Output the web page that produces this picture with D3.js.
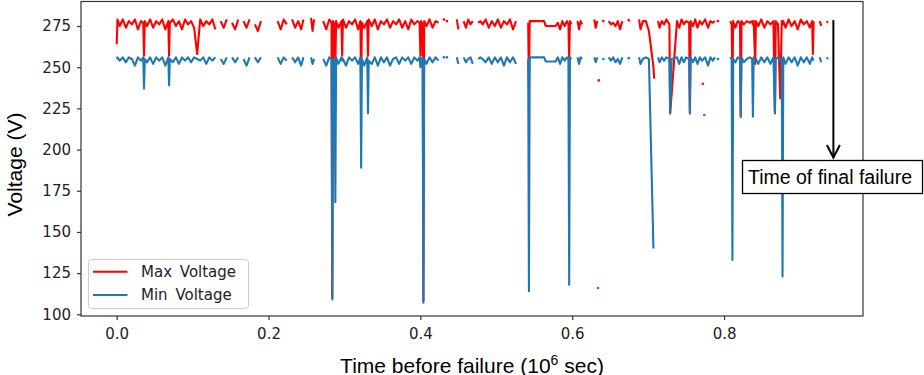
<!DOCTYPE html>
<html>
<head>
<meta charset="utf-8">
<script src="https://cdn.jsdelivr.net/npm/d3@7"></script>
<style>
  body { margin: 0; background: #fff; }
  svg { display: block; }
</style>
</head>
<body>
<div id="container"></div>
<script>

// readings: [time (1e6 s), max voltage, min voltage]; null = no reading
const segA = [
  [0.000, 264, 255], [0.001, 279, 256], [0.004, 275, 254], [0.008, 279, 256], [0.012, 274, 253],
  [0.016, 278, 256], [0.020, 276, 255], [0.024, 279, 251], [0.028, 273, 256], [0.032, 278, 254],
  [0.035, 277, 256], [0.036, 257, 237], [0.037, 278, 255], [0.040, 275, 253], [0.044, 279, 256],
  [0.048, 274, 252], [0.052, 278, 256], [0.056, 276, 254], [0.060, 279, 256], [0.064, 273, 251],
  [0.068, 278, 256], [0.069, 257, 239], [0.070, 277, 255], [0.074, 279, 253], [0.078, 275, 256],
  [0.082, 278, 252], [0.086, 273, 256], [0.090, 279, 254], [0.094, 276, 256], [0.098, 278, 253],
  [0.102, 274, 256], [0.106, 258, 255], [0.110, 279, 254], [0.114, 275, 256], [0.118, 278, 252],
  [0.122, 276, 256], [0.126, 279, 254], [0.130, 273, 256], [0.134, null, null], [0.137, 278, 255],
  [0.141, 274, 252], [0.145, 279, 256], [0.149, null, null], [0.152, 277, 256], [0.156, 273, 253],
  [0.160, 279, 256], [0.164, null, null], [0.167, 278, 255], [0.171, 274, 251], [0.175, 279, 256],
  [0.179, null, null], [0.182, 276, 256], [0.186, 272, 253], [0.190, 278, 256]
];
const segB = [
  [0.212, 278, 256], [0.216, 273, 252], [0.220, 279, 256], [0.224, 276, 254], [0.228, null, null],
  [0.231, 279, 256], [0.235, 274, 253], [0.239, 278, 256], [0.243, 273, 251], [0.246, 279, 256],
  [0.250, null, null],
  [0.256, 280, 256], [0.258, 272, 252], [0.260, 279, 255]
];
const segC = [
  [0.272, 278, 255], [0.276, 273, 251], [0.280, 279, 256], [0.283, 277, 255], [0.284, 110, 109],
  [0.285, 278, 254], [0.287, 276, 255], [0.288, 250, 168], [0.289, 278, 256], [0.292, 274, 252],
  [0.296, 278, 256], [0.297, 257, 254], [0.298, 279, 255], [0.302, 274, 251], [0.306, 278, 256],
  [0.310, 276, 254], [0.314, 279, 256], [0.318, 273, 252], [0.321, 278, 256], [0.322, 240, 189],
  [0.323, 277, 255], [0.326, 274, 251], [0.330, 278, 256], [0.331, 257, 222], [0.332, 279, 254],
  [0.336, 275, 252], [0.340, 279, 256], [0.344, 273, 251], [0.348, 278, 256], [0.352, 276, 253],
  [0.356, 279, 256], [0.360, 274, 251], [0.364, 278, 255], [0.368, 276, 256], [0.372, 279, 252],
  [0.376, 274, 256], [0.380, 278, 254], [0.384, 273, 256], [0.388, 279, 252], [0.392, 276, 256],
  [0.396, 278, 254], [0.399, 277, 256], [0.400, 257, 250], [0.401, 278, 255], [0.403, 276, 256],
  [0.404, 108, 107], [0.405, 278, 255], [0.408, 275, 252], [0.412, 279, 256], [0.416, 274, 253],
  [0.420, 278, 256], [0.424, 277, 254], [0.428, null, null], [0.431, 279, 256], [0.433, null, null],
  [0.435, 278, 256]
];
const segD = [
  [0.448, 279, 256], [0.450, 273, 252], [0.452, null, null], [0.457, 278, 256], [0.460, 274, 253],
  [0.463, 279, 255], [0.466, 276, 256], [0.469, 278, 252], [0.472, null, null], [0.476, 277, 255],
  [0.479, 278, 256], [0.482, 276, 255], [0.486, 279, 253], [0.490, 274, 256], [0.494, 278, 252],
  [0.498, 275, 256], [0.502, 279, 253], [0.506, 274, 256], [0.510, 278, 251], [0.514, 276, 256],
  [0.518, 279, 253], [0.522, 273, 256], [0.526, 278, 252]
];
const segE = [
  [0.542, 277, 255], [0.543, 238, 114], [0.544, 278, 256], [0.563, 278, 256], [0.565, 275, 253.5],
  [0.578, 275, 253.5], [0.581, 277, 256], [0.584, 273, 252], [0.587, 278, 256], [0.590, 275, 254],
  [0.593, 278, 256], [0.595, 276, 255], [0.596, 255, 118], [0.597, 278, 256], [0.599, 276, 255],
  [0.603, null, null],
  [0.607, 278, 256], [0.609, 273, 252], [0.611, 278, 256], [0.613, 276, 255]
];
const segF = [
  [0.629, 279, 256], [0.631, 274, 253], [0.633, 278, 256], [0.637, null, null], [0.641, 278, 255],
  [0.644, null, null], [0.648, 278, 256], [0.651, 276, 254], [0.654, 277, 256], [0.657, 275, 253],
  [0.660, 278, 255], [0.663, 273, 252], [0.666, 278, 256], [0.669, null, null], [0.673, 279, 255],
  [0.676, 278, 256]
];
const segG = [
  [0.688, 279, 256], [0.690, 273, 252], [0.693, 278, 255], [0.697, 278, 256], [0.701, 272, 255],
  [0.707, 250, 140], [0.708, 243, null], [0.710, null, null],
  [0.713, 278, 256], [0.715, 274, 253], [0.718, 278, 256], [0.721, 276, 254], [0.724, 279, 256],
  [0.728, 276, 255], [0.729, 222, 222], [0.731, 234, 255], [0.738, 278, 256], [0.741, 274, 252],
  [0.744, 279, 256], [0.747, 276, 253], [0.750, 278, 256], [0.754, 277, 255], [0.755, 222, 222],
  [0.756, 278, 256], [0.759, 275, 253], [0.762, 279, 256], [0.765, 274, 252], [0.768, 278, 256],
  [0.771, 276, 254], [0.775, 279, 256], [0.779, 274, 251], [0.782, 278, 256], [0.785, 277, 254],
  [0.788, 278, 256], [0.790, null, null], [0.792, 278, 255]
];
const segH = [
  [0.808, 278, 256], [0.810, 276, 255], [0.811, 242, 133], [0.812, 278, 255], [0.815, 274, 253],
  [0.818, 278, 256], [0.821, 277, 255], [0.822, 220, 220], [0.823, 278, 256], [0.826, 276, 253],
  [0.830, 278, 255], [0.834, 277, 256], [0.837, 278, 255], [0.838, 276, 220], [0.839, 278, 256],
  [0.841, 252, 254], [0.842, 278, 255], [0.845, 275, 252], [0.849, 279, 256], [0.853, 274, 253],
  [0.857, 278, 256], [0.861, 276, 252], [0.865, 278, 256], [0.867, 222, 222], [0.868, 278, 255],
  [0.871, 276, 256], [0.874, 231, 254], [0.876, 278, 255], [0.877, 276, 123], [0.878, 278, 256],
  [0.881, 274, 252], [0.885, 279, 256], [0.889, 275, 253], [0.893, 278, 256], [0.897, 273, 251],
  [0.901, 279, 256], [0.905, 276, 253], [0.909, 278, 256], [0.913, 274, 252], [0.916, 278, 256],
  [0.917, 258, 255], [0.918, 278, 254], [0.922, null, null], [0.926, 278, 256], [0.928, 275, 253],
  [0.930, null, null], [0.935, 278, 256], [0.937, 277, 255]
];
// lone readings away from the bands
const maxStray = [[0.635, 242], [0.772, 240]];
const minStray = [[0.634, 116], [0.774, 221]];

const yTicks = [100, 125, 150, 175, 200, 225, 250, 275];
const xTicks = [0.0, 0.2, 0.4, 0.6, 0.8];
const failureT = 0.944;

const width = 924, height = 375;
const m = { left: 81, right: 863, top: 1.5, bottom: 316 };

// stitch the segments with a break between each
let rows = [];
[segA, segB, segC, segD, segE, segF, segG, segH].forEach(s => {
  rows = rows.concat(s);
  rows.push([s[s.length - 1][0] + 0.001, null, null]);
});

const x = d3.scaleLinear().domain([-0.047, 0.983]).range([m.left, m.right]);
const y = d3.scaleLinear().domain([98.97, 289.9]).range([m.bottom, m.top]);

const svg = d3.create("svg").attr("width", width).attr("height", height);

function drawSeries(col, color, strays) {
  const line = d3.line()
    .defined(d => d[col] != null)
    .x(d => x(d[0]))
    .y(d => y(d[col]));
  svg.append("path")
    .attr("d", line(rows))
    .attr("fill", "none")
    .attr("stroke", color)
    .attr("stroke-width", 2.1)
    .attr("stroke-linejoin", "round");

  // single readings between breaks show as dots
  const lone = rows.filter((d, i) => d[col] != null &&
    (i == 0 || rows[i - 1][col] == null) && (i == rows.length - 1 || rows[i + 1][col] == null));
  svg.append("g").selectAll("circle")
    .data(lone.map(d => [d[0], d[col]]).concat(strays))
    .enter().append("circle")
      .attr("cx", d => x(d[0]))
      .attr("cy", d => y(d[1]))
      .attr("r", 1.3)
      .attr("fill", color);
}

drawSeries(1, "#ff0000", maxStray);
drawSeries(2, "#1f77b4", minStray);

// frame
svg.append("rect")
  .attr("x", m.left).attr("y", m.top)
  .attr("width", m.right - m.left).attr("height", m.bottom - m.top)
  .attr("fill", "none").attr("stroke", "#333").attr("stroke-width", 1.2);

const yAxis = svg.append("g")
  .attr("transform", `translate(${m.left},0)`)
  .call(d3.axisLeft(y).tickValues(yTicks).tickSize(4).tickPadding(6).tickFormat(d3.format("d")));
const xAxis = svg.append("g")
  .attr("transform", `translate(0,${m.bottom})`)
  .call(d3.axisBottom(x).tickValues(xTicks).tickSize(4).tickPadding(8).tickFormat(d3.format(".1f")));
[yAxis, xAxis].forEach(a => {
  a.select(".domain").remove();
  a.selectAll("line").attr("stroke", "#333").attr("stroke-width", 1.2);
  a.selectAll("text").attr("fill", "#222")
    .style("font-family", "DejaVu Sans").style("font-size", "15px");
});

// axis titles
svg.append("text")
  .attr("transform", "translate(22,164.5) rotate(-90)")
  .attr("text-anchor", "middle")
  .style("font-family", "Liberation Sans, Arial").style("font-size", "21px")
  .text("Voltage (V)");

const xl = svg.append("text")
  .attr("x", 472).attr("y", 372.5)
  .attr("text-anchor", "middle")
  .style("font-family", "Liberation Sans, Arial").style("font-size", "21px");
xl.append("tspan").text("Time before failure (10");
xl.append("tspan").attr("dy", -8).style("font-size", "14px").text("6");
xl.append("tspan").attr("dy", 8).text(" sec)");

// legend
const lg = svg.append("g");
lg.append("rect")
  .attr("x", 88.5).attr("y", 259.5).attr("width", 160).attr("height", 49).attr("rx", 3)
  .attr("fill", "#fff").attr("fill-opacity", 0.8).attr("stroke", "#ccc");
[["Max Voltage", "#ff0000", 271.7], ["Min Voltage", "#1f77b4", 295]].forEach(([name, c, ly]) => {
  lg.append("line").attr("x1", 93).attr("x2", 127.5).attr("y1", ly).attr("y2", ly)
    .attr("stroke", c).attr("stroke-width", 2);
  lg.append("text").attr("x", 141).attr("y", ly + 5.3)
    .attr("fill", "#222").attr("word-spacing", 3)
    .style("font-family", "DejaVu Sans").style("font-size", "15px")
    .text(name);
});

// final failure annotation
const ax = x(failureT);
svg.append("line")
  .attr("x1", ax).attr("x2", ax).attr("y1", y(278.6)).attr("y2", 157.5)
  .attr("stroke", "#000").attr("stroke-width", 2);
svg.append("path")
  .attr("d", `M${ax - 6.5},145L${ax},157.5L${ax + 6.5},145`)
  .attr("fill", "none").attr("stroke", "#000").attr("stroke-width", 2);
svg.append("rect")
  .attr("x", 742.5).attr("y", 160.5).attr("width", 180).attr("height", 33)
  .attr("fill", "#fff").attr("stroke", "#000").attr("stroke-width", 1.3);
svg.append("text")
  .attr("x", 748).attr("y", 184)
  .style("font-family", "Liberation Sans, Arial").style("font-size", "19.5px")
  .text("Time of final failure");

container.append(svg.node());
</script>
</body>
</html>
